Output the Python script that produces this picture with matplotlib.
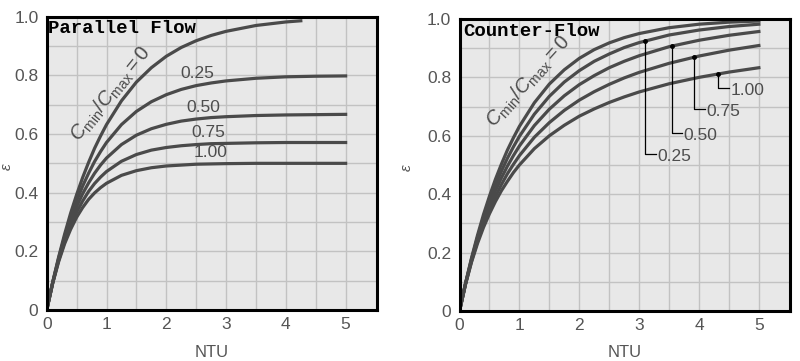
import numpy as np
import matplotlib
matplotlib.use('Agg')
import matplotlib.pyplot as plt

plt.rcParams['font.family'] = ['Liberation Sans', 'DejaVu Sans']
plt.rcParams['mathtext.fontset'] = 'custom'
plt.rcParams['mathtext.rm'] = 'Liberation Sans'
plt.rcParams['mathtext.it'] = 'Liberation Sans:italic'

# effectiveness values
ntu = [0, 0.1, 0.2, 0.3, 0.4, 0.5, 0.6, 0.7, 0.8, 0.9, 1.0, 1.25, 1.5, 1.75,
       2.0, 2.25, 2.5, 2.75, 3.0, 3.5, 4.0, 4.5, 5.0]
ntu_par0 = [0, 0.1, 0.2, 0.3, 0.4, 0.5, 0.6, 0.7, 0.8, 0.9, 1.0, 1.25, 1.5, 1.75,
            2.0, 2.25, 2.5, 2.75, 3.0, 3.5, 4.0, 4.25]

par_00 = [0, .095, .181, .259, .330, .393, .451, .503, .551, .593, .632, .713, .777, .826,
          .865, .895, .918, .936, .950, .970, .982, .986]
par_25 = [0, .094, .177, .250, .315, .372, .422, .466, .506, .540, .571, .632, .677, .710,
          .734, .752, .765, .774, .781, .790, .795, .797, .798]
par_50 = [0, .093, .173, .242, .301, .352, .396, .433, .466, .494, .518, .564, .596, .618,
          .633, .644, .651, .656, .659, .663, .665, .666, .667]
par_75 = [0, .092, .169, .233, .288, .333, .371, .404, .431, .453, .472, .507, .530, .545,
          .554, .560, .564, .567, .568, .570, .571, .571, .571]
par_100 = [0, .091, .165, .226, .275, .316, .349, .377, .399, .417, .432, .459, .475, .485,
           .491, .494, .497, .498, .499, .500, .500, .500, .500]

cnt_00 = [0, .095, .181, .259, .330, .393, .451, .503, .551, .593, .632, .713, .777, .826,
          .865, .895, .918, .936, .950, .970, .982, .989, .993]
cnt_25 = [0, .094, .178, .252, .318, .378, .431, .479, .523, .562, .598, .674, .735, .784,
          .823, .855, .880, .902, .919, .945, .962, .974, .982]
cnt_50 = [0, .093, .174, .245, .307, .362, .412, .456, .496, .532, .565, .635, .691, .737,
          .775, .806, .833, .855, .874, .905, .927, .944, .957]
cnt_75 = [0, .092, .170, .238, .296, .348, .393, .433, .470, .502, .532, .595, .645, .687,
          .722, .751, .776, .798, .817, .848, .873, .893, .909]
cnt_100 = [0, .091, .167, .231, .286, .333, .375, .412, .444, .474, .500, .556, .600, .636,
           .667, .692, .714, .733, .750, .778, .800, .818, .833]

ratio_labels = ['0.25', '0.50', '0.75', '1.00']

curve_color = '#4a4a4a'
text_color = '#4d4d4d'

fig = plt.figure(figsize=(8, 3.61), dpi=100)
ax1 = fig.add_axes([0.0584, 0.1413, 0.4125, 0.8125])
ax2 = fig.add_axes([0.5744, 0.1385, 0.4131, 0.8090])


def style_axes(ax):
    ax.set_facecolor('#e8e8e8')
    ax.set_xlim(0, 5.52)
    ax.set_ylim(0, 1.0)
    ax.set_xticks(range(6))
    ax.set_xticks(np.arange(0.5, 5.5, 0.5), minor=True)
    ax.set_yticks([0, 0.2, 0.4, 0.6, 0.8, 1.0])
    ax.set_yticklabels(['0', '0.2', '0.4', '0.6', '0.8', '1.0'])
    ax.set_yticks(np.arange(0.1, 1.0, 0.2), minor=True)
    ax.grid(which='both', color='#c2c2c2', linewidth=1.0)
    ax.set_axisbelow(True)
    ax.tick_params(which='both', length=0, labelsize=12.5, labelcolor='#555555')
    ax.tick_params(axis='x', pad=5)
    ax.tick_params(axis='y', pad=6)
    for s in ax.spines.values():
        s.set_linewidth(2.2)
        s.set_color('black')
    ax.set_xlabel('NTU', fontsize=12, color='#555555')
    ax.set_ylabel(r'$\varepsilon$', fontsize=11, color='#555555', rotation=90)


style_axes(ax1)
style_axes(ax2)
ax1.xaxis.set_label_coords(0.5, -0.12)
ax2.xaxis.set_label_coords(0.5, -0.116)
ax1.yaxis.set_label_coords(-0.098, 0.49)
ax2.yaxis.set_label_coords(-0.138, 0.49)

# parallel flow
ax1.plot(ntu_par0, par_00, color=curve_color, lw=2.3)
for vals in [par_25, par_50, par_75, par_100]:
    ax1.plot(ntu, vals, color=curve_color, lw=2.3)

ax1.text(0.005, 0.99, 'Parallel Flow', transform=ax1.transAxes, ha='left', va='top',
         family='Liberation Mono', fontweight='bold', fontsize=13.7, color='black')
ax1.text(1.07, 0.735, r'$C_{\mathrm{min}}/C_{\mathrm{max}} = 0$', rotation=51,
         ha='center', va='center', rotation_mode='anchor', fontsize=14.5, color=text_color)
par_lbl_pos = [(2.52, 0.805), (2.62, 0.692), (2.70, 0.604), (2.74, 0.536)]
for lbl, (x, y) in zip(ratio_labels, par_lbl_pos):
    ax1.text(x, y, lbl, ha='center', va='center', fontsize=12.5, color=text_color)

# counter flow
for vals in [cnt_00, cnt_25, cnt_50, cnt_75, cnt_100]:
    ax2.plot(ntu, vals, color=curve_color, lw=2.3)

ax2.text(0.012, 0.985, 'Counter-Flow', transform=ax2.transAxes, ha='left', va='top',
         family='Liberation Mono', fontweight='bold', fontsize=13.7, color='black')
ax2.text(1.15, 0.785, r'$C_{\mathrm{min}}/C_{\mathrm{max}} = 0$', rotation=48,
         ha='center', va='center', rotation_mode='anchor', fontsize=14.5, color=text_color)

# leader lines: (x on curve, bottom y, end of horizontal tick)
leaders = [(3.10, 0.537, 3.29), (3.55, 0.608, 3.72), (3.91, 0.690, 4.10), (4.31, 0.763, 4.50)]
for lbl, vals, (x, yb, xe) in zip(ratio_labels, [cnt_25, cnt_50, cnt_75, cnt_100], leaders):
    yt = np.interp(x, ntu, vals)
    ax2.plot([x, x, xe], [yt, yb, yb], color='black', lw=0.9)
    ax2.plot([x], [yt], 'o', color='black', ms=2.5)
    ax2.text(xe + 0.02, yb - 0.008, lbl, ha='left', va='center', fontsize=12.5, color=text_color)

fig.savefig('out.png', dpi=100, facecolor='white')
